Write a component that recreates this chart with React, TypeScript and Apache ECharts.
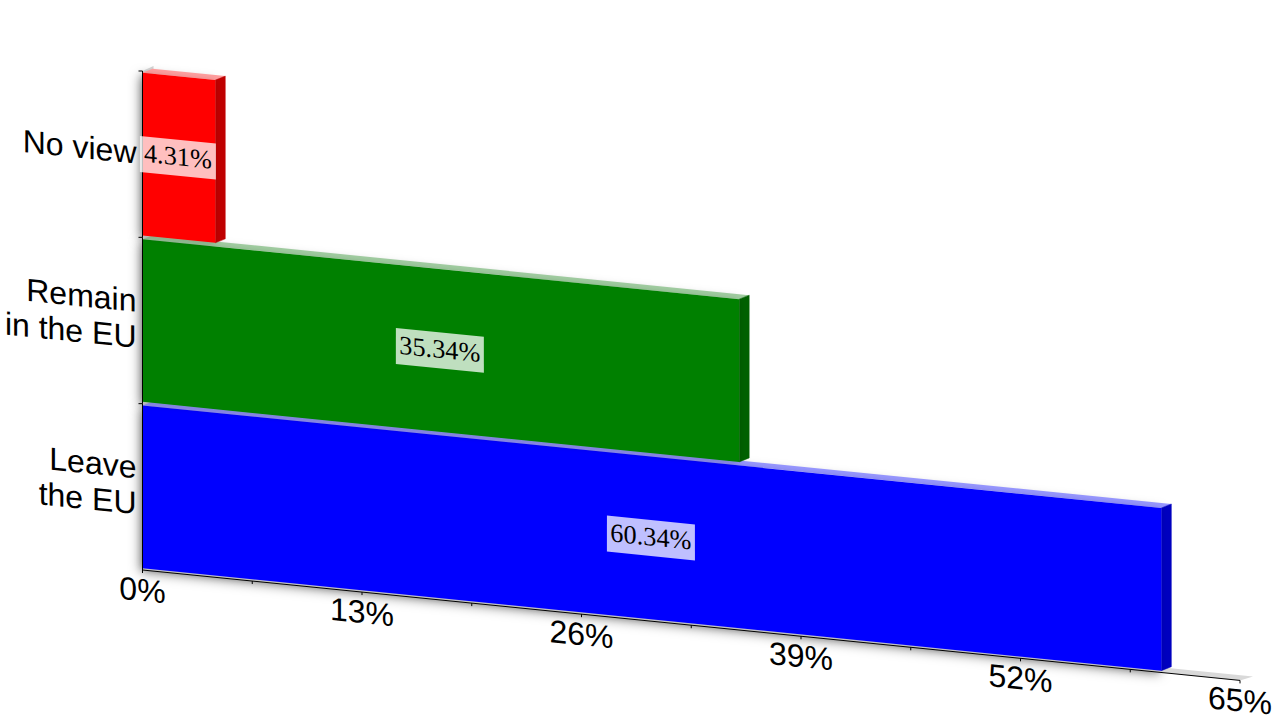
import React, { useEffect, useRef } from "react";
import * as echarts from "echarts";

const categories = ["Leave\nthe EU", "Remain\nin the EU", "No view"];
const shares = [60.34, 35.34, 4.31];
const frontColors = ["#0000ff", "#008000", "#ff0000"];
const sideColors = ["#0000bf", "#006000", "#bf0000"];
const topColors = ["#9696ff", "#a0cca0", "#ff9e9e"];
const labelledTicks = [0, 13, 26, 39, 52, 65];
const minorTicks = [6.5, 19.5, 32.5, 45.5, 58.5];

const SLOPE = 0.1006;
const DEPTH_X = 10;
const DEPTH_Y = -4;
const GRID_LEFT = 142.5;
const BAR_INSET = 1.8;

const sheared = (p: number[]) => [p[0], p[1] + SLOPE * (p[0] - GRID_LEFT)];

const shearedText = (x: number, y: number, style: any, z2 = 0) => {
  const m00 = 1, m01 = 0, m10 = SLOPE, m11 = 1;
  const E = (m00 + m11) / 2, F = (m00 - m11) / 2, G = (m10 + m01) / 2, H = (m10 - m01) / 2;
  const Q = Math.hypot(E, H), R = Math.hypot(F, G);
  const a1 = Math.atan2(G, F), a2 = Math.atan2(H, E);
  const theta = (a2 - a1) / 2, phi = (a2 + a1) / 2;
  return {
    type: "group",
    x,
    y,
    rotation: -phi,
    children: [
      {
        type: "group",
        scaleX: Q + R,
        scaleY: Q - R,
        children: [{ type: "text", rotation: -theta, z2, style }],
      },
    ],
  };
};

const poly = (points: number[][], fill: string, extra: any = {}) => ({
  type: "polygon",
  shape: { points },
  style: { fill, ...extra },
});

const line = (a: number[], b: number[], stroke = "#000", lineWidth = 1) => ({
  type: "line",
  shape: { x1: a[0], y1: a[1], x2: b[0], y2: b[1] },
  style: { stroke, lineWidth },
});

const off = (p: number[]) => [p[0] + DEPTH_X, p[1] + DEPTH_Y];

const renderWalls = (_: any, api: any) => {
  const half = api.size([0, 1])[1] / 2;
  const o = sheared([api.coord([0, 0])[0], api.coord([0, 0])[1] + half]);
  const e = sheared([api.coord([65, 0])[0], api.coord([65, 0])[1] + half]);
  const t = sheared([api.coord([0, 2])[0], api.coord([0, 2])[1] - half]);
  return {
    type: "group",
    children: [
      poly([o, e, [off(e)[0] + 3, off(e)[1]], off(o)], "#d9d9d9"),
      poly([o, t, [off(t)[0] + 1, off(t)[1] - 1], off(o)], "#cfcfcf"),
    ],
  };
};

const barCorners = (api: any) => {
  const v = api.value(0);
  const c = api.value(1);
  const half = api.size([0, 1])[1] / 2 - BAR_INSET;
  const a = api.coord([0, c]);
  const b = api.coord([v, c]);
  return {
    fl: sheared([a[0], a[1] + half]),
    tl: sheared([a[0], a[1] - half]),
    tr: sheared([b[0], b[1] - half]),
    br: sheared([b[0], b[1] + half]),
  };
};

const renderBarShadow = (_: any, api: any) => {
  const { fl, tl, tr, br } = barCorners(api);
  return poly([tl, tr, br, fl], "#ffffff", {
    shadowBlur: 12,
    shadowColor: "rgba(0,0,0,0.5)",
    shadowOffsetX: -2,
    shadowOffsetY: 3,
  });
};

const renderBar = (params: any, api: any) => {
  const i = params.dataIndex;
  const { fl, tl, tr, br } = barCorners(api);
  return {
    type: "group",
    children: [
      poly([tl, tr, off(tr), off(tl)], topColors[i]),
      poly([tr, br, off(br), off(tr)], sideColors[i], { stroke: sideColors[i], lineWidth: 0.5 }),
      poly([tl, tr, br, fl], frontColors[i], {
        shadowBlur: 6,
        shadowColor: "rgba(0,0,0,0.2)",
        shadowOffsetX: -1,
        shadowOffsetY: 1,
      }),
    ],
  };
};

const renderValueLabel = (_: any, api: any) => {
  const v = api.value(0);
  const c = api.value(1);
  const mid = api.coord([v / 2, c]);
  const centre = sheared([mid[0] - 1, mid[1]]);
  const hw = 44 - (v < 10 ? 6 : 0);
  const hh = 18;
  const corner = (dx: number, dy: number) =>
    sheared([centre[0] + dx, centre[1] - SLOPE * (centre[0] - GRID_LEFT) + dy]);
  return {
    type: "group",
    children: [
      poly(
        [corner(-hw, -hh), corner(hw, -hh), corner(hw, hh), corner(-hw, hh)],
        "rgba(255,255,255,0.75)"
      ),
      shearedText(centre[0], centre[1] - 1, {
        text: `${v.toFixed(2)}%`,
        fill: "#000",
        fontSize: 26.3,
        fontFamily: "Liberation Serif",
        align: "center",
        verticalAlign: "middle",
        textAlign: "center",
        textVerticalAlign: "middle",
      }),
    ],
  };
};

const renderCategoryAxis = (params: any, api: any) => {
  const c = api.value(0);
  const half = api.size([0, 1])[1] / 2;
  const p = api.coord([0, c]);
  const top = [p[0], p[1] - half];
  const bottom = [p[0], p[1] + half];
  const children: any[] = [
    line(top, bottom),
    line([top[0] - 4, top[1]], top),
    shearedText(p[0] - 6, p[1] - SLOPE * 6 - 1, {
      text: categories[params.dataIndex],
      fill: "#000",
      fontSize: 32,
      lineHeight: 36,
      fontFamily: "Liberation Sans",
      align: "right",
      verticalAlign: "middle",
      textAlign: "right",
      textVerticalAlign: "middle",
    }),
  ];
  return { type: "group", children };
};

const renderValueTick = (_: any, api: any) => {
  const half = api.size([0, 1])[1] / 2;
  const v = api.value(0);
  const p0 = api.coord([v, 0]);
  const p = sheared([p0[0], p0[1] + half]);
  return {
    type: "group",
    children: [
      line(p, [p[0], p[1] + 3]),
      shearedText(p[0], p[1] + 20, {
        text: `${v}%`,
        fill: "#000",
        fontSize: 32,
        fontFamily: "Liberation Sans",
        align: "center",
        verticalAlign: "middle",
        textAlign: "center",
        textVerticalAlign: "middle",
      }),
    ],
  };
};

const renderMinorTick = (_: any, api: any) => {
  const half = api.size([0, 1])[1] / 2;
  const p0 = api.coord([api.value(0), 0]);
  const p = sheared([p0[0], p0[1] + half]);
  return line(p, [p[0], p[1] + 3]);
};

const renderBaseline = (_: any, api: any) => {
  const half = api.size([0, 1])[1] / 2;
  const a = api.coord([0, 0]);
  const b = api.coord([65, 0]);
  return line(sheared([a[0], a[1] + half]), sheared([b[0], b[1] + half]));
};

const custom = (name: string, renderItem: any, data: any[], z: number, dims = [0, 1]) => ({
  name,
  type: "custom",
  renderItem,
  data,
  z,
  silent: true,
  clip: false,
  encode: { x: dims[0], y: dims[1] },
});

export default function App() {
  const ref = useRef<HTMLDivElement>(null);
  useEffect(() => {
    const chart = echarts.init(ref.current!, undefined, { renderer: "svg" });
    const barData = shares.map((v, i) => [v, i]);
    chart.setOption({
      animation: false,
      backgroundColor: "#ffffff",
      grid: { left: GRID_LEFT, top: 71, width: 1097.5, height: 499 },
      xAxis: { type: "value", min: 0, max: 65, interval: 13, show: false },
      yAxis: { type: "category", data: categories, show: false },
      series: [
        custom("shadows", renderBarShadow, barData, 1),
        custom("walls", renderWalls, [[0, 0]], 1),
        custom("shares", renderBar, barData, 2),
        custom("baseline", renderBaseline, [[0, 0]], 3),
        custom("categories", renderCategoryAxis, categories.map((_, i) => [i, i]), 3, [1, 0]),
        custom("ticks", renderValueTick, labelledTicks.map((v) => [v, 0]), 3),
        custom("minor", renderMinorTick, minorTicks.map((v) => [v, 0]), 3),
        custom("labels", renderValueLabel, barData, 4),
      ],
    });
    return () => chart.dispose();
  }, []);
  return (
    <div
      ref={ref}
      style={{ position: "fixed", left: 0, top: 0, width: 1280, height: 720, background: "#fff" }}
    />
  );
}
